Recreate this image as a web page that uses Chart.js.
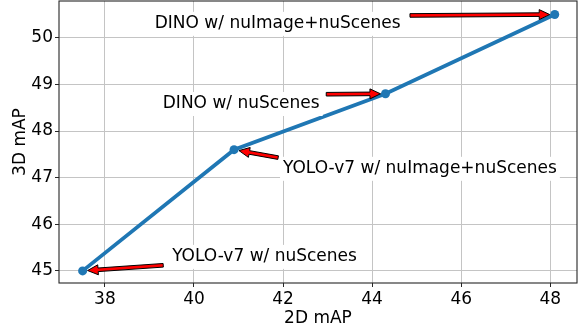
<!DOCTYPE html>
<html><head><meta charset="utf-8">
<script src="https://cdn.jsdelivr.net/npm/chart.js@4/dist/chart.umd.min.js"></script>
<style>html,body{margin:0;padding:0;background:#fff}#wrap{width:578px;height:325px}</style>
</head><body><div id="wrap"><canvas id="c" width="578" height="325"></canvas></div>
<script>
// ---- data ----
const map2D = [37.5, 40.9, 44.3, 48.1];
const map3D = [45.0, 47.6, 48.8, 50.5];
const labels = ["YOLO-v7 w/ nuScenes", "YOLO-v7 w/ nuImage+nuScenes", "DINO w/ nuScenes", "DINO w/ nuImage+nuScenes"];
const labelX = [39.51, 42.0, 39.30, 39.12];
const labelY = [45.30, 47.19, 48.58, 50.30];
const arrowTailX = [39.31, 41.89, 42.97, 44.85];
const arrowTailY = [45.12, 47.43, 48.79, 50.48];
const xTicks = [38, 40, 42, 44, 46, 48];
const yTicks = [45, 46, 47, 48, 49, 50];
const xRange = [36.97, 48.6];
const yRange = [44.74, 50.79];

const FONT = "'DejaVu Sans', sans-serif";
const FS = 17;

const annoPlugin = {
  id: 'anno',
  afterDatasetsDraw(chart) {
    const ctx = chart.ctx, xs = chart.scales.x, ys = chart.scales.y, a = chart.chartArea;
    ctx.save();
    // spines
    ctx.strokeStyle = '#262626';
    ctx.lineWidth = 1.1;
    ctx.strokeRect(a.left, a.top, a.right - a.left, a.bottom - a.top);
    ctx.font = FS + 'px ' + FONT;
    ctx.textBaseline = 'middle';
    ctx.textAlign = 'left';
    for (let i = 0; i < labels.length; i++) {
      const px = xs.getPixelForValue(labelX[i]);
      const py = ys.getPixelForValue(labelY[i]);
      const w = ctx.measureText(labels[i]).width;
      ctx.fillStyle = '#fff';
      ctx.fillRect(px - 3, py - 12, w + 6, 24);
      ctx.fillStyle = '#000';
      ctx.fillText(labels[i], px, py);
      // arrow
      const tx = xs.getPixelForValue(arrowTailX[i]);
      const ty = ys.getPixelForValue(arrowTailY[i]);
      const hx0 = xs.getPixelForValue(map2D[i]);
      const hy0 = ys.getPixelForValue(map3D[i]);
      let dx = hx0 - tx, dy = hy0 - ty;
      const L = Math.hypot(dx, dy);
      dx /= L; dy /= L;
      const shrink = 5;
      const hx = hx0 - dx * shrink, hy = hy0 - dy * shrink;
      const len = L - shrink;
      const nx = -dy, ny = dx;
      const bw = 1.8, hw = 5, hl = 10.5;
      const bx = tx + dx * (len - hl), by = ty + dy * (len - hl);
      ctx.beginPath();
      ctx.moveTo(tx + nx * bw, ty + ny * bw);
      ctx.lineTo(bx + nx * bw, by + ny * bw);
      ctx.lineTo(bx + nx * hw, by + ny * hw);
      ctx.lineTo(hx, hy);
      ctx.lineTo(bx - nx * hw, by - ny * hw);
      ctx.lineTo(bx - nx * bw, by - ny * bw);
      ctx.lineTo(tx - nx * bw, ty - ny * bw);
      ctx.closePath();
      ctx.fillStyle = '#ff0000';
      ctx.fill();
      ctx.strokeStyle = '#000';
      ctx.lineWidth = 1;
      ctx.lineJoin = 'miter';
      ctx.stroke();
    }
    ctx.restore();
  }
};

new Chart(document.getElementById('c'), {
  type: 'scatter',
  data: {
    datasets: [{
      data: map2D.map((x, i) => ({ x: x, y: map3D[i] })),
      showLine: true,
      borderColor: '#1f77b4',
      backgroundColor: '#1f77b4',
      borderWidth: 3.8,
      pointRadius: 4.5,
      pointBorderWidth: 0,
      pointBackgroundColor: '#1f77b4',
      tension: 0,
      clip: false
    }]
  },
  options: {
    responsive: false,
    animation: false,
    devicePixelRatio: 1,
    layout: { autoPadding: false, padding: { left: 0, right: 1, top: 1, bottom: 0 } },
    plugins: { legend: { display: false }, tooltip: { enabled: false } },
    scales: {
      x: {
        type: 'linear', min: xRange[0], max: xRange[1],
        afterBuildTicks: s => { s.ticks = xTicks.map(v => ({ value: v })); },
        afterFit: s => { s.height = 42; s.paddingLeft = 0; s.paddingRight = 0; },
        grid: { color: '#c4c4c4', lineWidth: 1, tickLength: 4, tickColor: '#262626', drawTicks: true },
        border: { display: false },
        ticks: { color: '#000', font: { family: FONT, size: FS }, padding: 2, maxRotation: 0, autoSkip: false,
                 callback: v => String(v) },
        title: { display: true, text: '2D mAP', color: '#000', font: { family: FONT, size: FS, lineHeight: 0.8 }, padding: { top: 0, bottom: 0 } }
      },
      y: {
        type: 'linear', min: yRange[0], max: yRange[1],
        afterBuildTicks: s => { s.ticks = yTicks.map(v => ({ value: v })); },
        afterFit: s => { s.width = 59; s.paddingTop = 0; s.paddingBottom = 0; },
        grid: { color: '#c4c4c4', lineWidth: 1, tickLength: 4, tickColor: '#262626', drawTicks: true },
        border: { display: false },
        ticks: { color: '#000', font: { family: FONT, size: FS }, padding: 2, autoSkip: false,
                 callback: v => String(v) },
        title: { display: true, text: '3D mAP', color: '#000', font: { family: FONT, size: FS, lineHeight: 1 }, padding: { top: 12, bottom: 0 } }
      }
    }
  },
  plugins: [annoPlugin]
});
</script></body></html>
